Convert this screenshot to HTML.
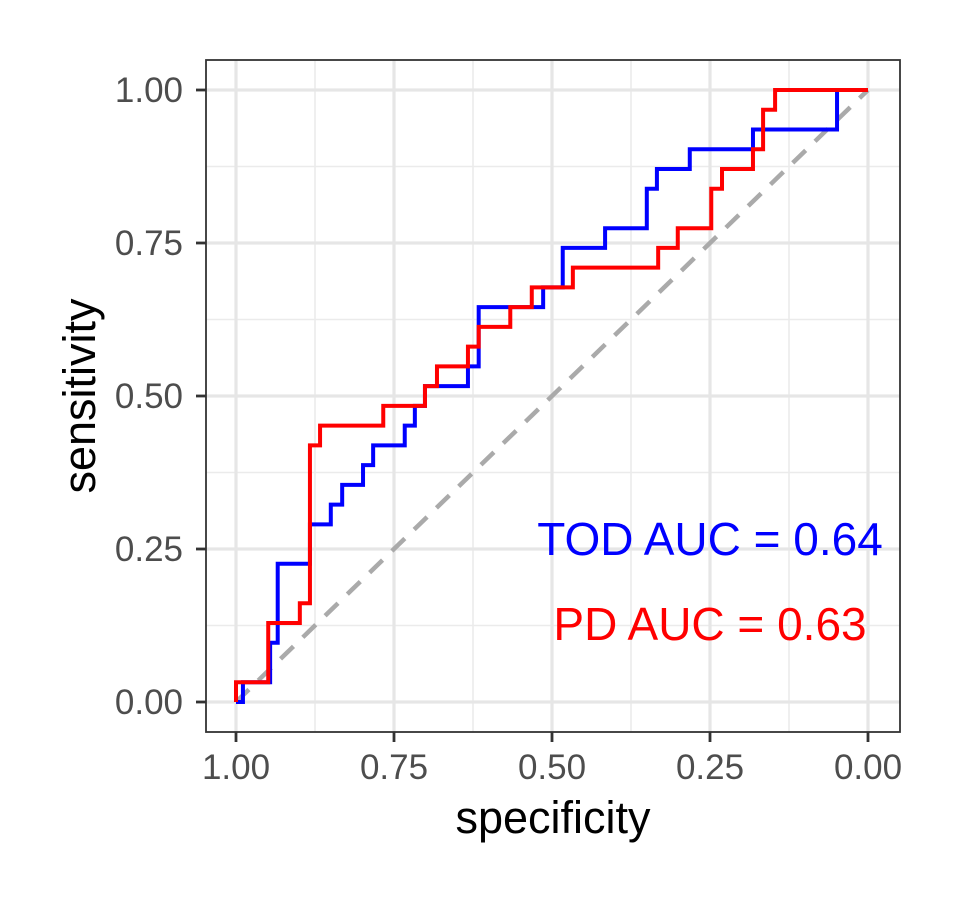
<!DOCTYPE html>
<html><head><meta charset="utf-8">
<style>
html,body{margin:0;padding:0;background:#fff;}
svg text{font-family:"Liberation Sans",Arial,sans-serif;}
</style></head>
<body>
<svg id="chart" width="960" height="900" viewBox="0 0 960 900" xmlns="http://www.w3.org/2000/svg">
<rect width="960" height="900" fill="#fff"/>
<g id="grid"></g>
<g id="series"></g>
<rect x="206" y="60" width="694" height="672" fill="none" stroke="#333" stroke-width="1.8"/>
<g id="axes"></g>
<text x="553" y="833" font-size="45" text-anchor="middle" fill="#000">specificity</text>
<text x="0" y="0" font-size="45" text-anchor="middle" fill="#000" transform="translate(95,396) rotate(-90)">sensitivity</text>
<text x="710" y="555" font-size="46" text-anchor="middle" fill="#0000ff">TOD AUC = 0.64</text>
<text x="710" y="640" font-size="46" text-anchor="middle" fill="#ff0000">PD AUC = 0.63</text>
</svg>
<script>
const xTicks = [1.00, 0.75, 0.50, 0.25, 0.00];
const xTickLabels = ["1.00", "0.75", "0.50", "0.25", "0.00"];
const yTicks = [0.00, 0.25, 0.50, 0.75, 1.00];
const yTickLabels = ["0.00", "0.25", "0.50", "0.75", "1.00"];
const minorTicks = [0.125, 0.375, 0.625, 0.875];
const todSpec = [0.989, 0.946, 0.934, 0.883, 0.850, 0.832, 0.799, 0.783, 0.733, 0.717, 0.701, 0.633, 0.616, 0.514, 0.483, 0.416, 0.350, 0.334, 0.282, 0.182, 0.049];
const todSens = [1/31, 3/31, 7/31, 9/31, 10/31, 11/31, 12/31, 13/31, 14/31, 15/31, 16/31, 17/31, 20/31, 21/31, 23/31, 24/31, 26/31, 27/31, 28/31, 29/31, 1];
const pdSpec = [1.0, 0.949, 0.899, 0.883, 0.867, 0.767, 0.701, 0.682, 0.633, 0.616, 0.566, 0.532, 0.467, 0.332, 0.301, 0.248, 0.231, 0.182, 0.166, 0.147];
const pdSens = [1/31, 4/31, 5/31, 13/31, 14/31, 15/31, 16/31, 17/31, 18/31, 19/31, 20/31, 21/31, 22/31, 23/31, 24/31, 26/31, 27/31, 28/31, 30/31, 1];

const NS = "http://www.w3.org/2000/svg";
function xs(s){ return 236 + (1 - s) * 632; }
function ys(v){ return 702 - v * 612; }
function mk(tag, attrs, parent){
  const el = document.createElementNS(NS, tag);
  for (const k in attrs) el.setAttribute(k, attrs[k]);
  parent.appendChild(el);
  return el;
}
const grid = document.getElementById('grid');
const axes = document.getElementById('axes');
const series = document.getElementById('series');

minorTicks.forEach(t => {
  const v = mk('line', {x1: xs(t), x2: xs(t), y1: 60, y2: 732, stroke: '#ebebeb', 'stroke-width': 1.6}, grid);
  
  
  const h = mk('line', {x1: 206, x2: 900, y1: ys(t), y2: ys(t), stroke: '#ebebeb', 'stroke-width': 1.6}, grid);
  
  
});
xTicks.forEach((t, i) => {
  const g = mk('line', {x1: xs(t), x2: xs(t), y1: 60, y2: 732, stroke: '#e6e6e6', 'stroke-width': 3.2}, grid);
  
  
  const tk = mk('line', {x1: xs(t), x2: xs(t), y1: 732, y2: 742, stroke: '#333', 'stroke-width': 2.8}, axes);
  
  
  const tx = mk('text', {x: xs(t), y: 779, 'font-size': 35, 'text-anchor': 'middle', fill: '#4d4d4d'}, axes);
  tx.textContent = xTickLabels[i];
  
  
});
yTicks.forEach((t, i) => {
  const g = mk('line', {x1: 206, x2: 900, y1: ys(t), y2: ys(t), stroke: '#e6e6e6', 'stroke-width': 3.2}, grid);
  
  
  const tk = mk('line', {x1: 196, x2: 206, y1: ys(t), y2: ys(t), stroke: '#333', 'stroke-width': 2.8}, axes);
  
  
  const tx = mk('text', {x: 183, y: ys(t) + 12, 'font-size': 35, 'text-anchor': 'end', fill: '#4d4d4d'}, axes);
  tx.textContent = yTickLabels[i];
  
  
});

const diag = mk('line', {x1: xs(1), y1: ys(0), x2: xs(0), y2: ys(1), stroke: '#aaaaaa', 'stroke-width': 4.5, 'stroke-dasharray': '18 13'}, series);



function stepPath(spec, sens){
  let d = 'M' + xs(1) + ',' + ys(0);
  for (let i = 0; i < spec.length; i++){
    d += ' H' + xs(spec[i]) + ' V' + ys(sens[i]);
  }
  d += ' H' + xs(0);
  return d;
}
const tod = mk('path', {d: stepPath(todSpec, todSens), fill: 'none', stroke: '#0000ff', 'stroke-width': 4}, series);


const pd = mk('path', {d: stepPath(pdSpec, pdSens), fill: 'none', stroke: '#ff0000', 'stroke-width': 4}, series);


</script>
</body></html>
